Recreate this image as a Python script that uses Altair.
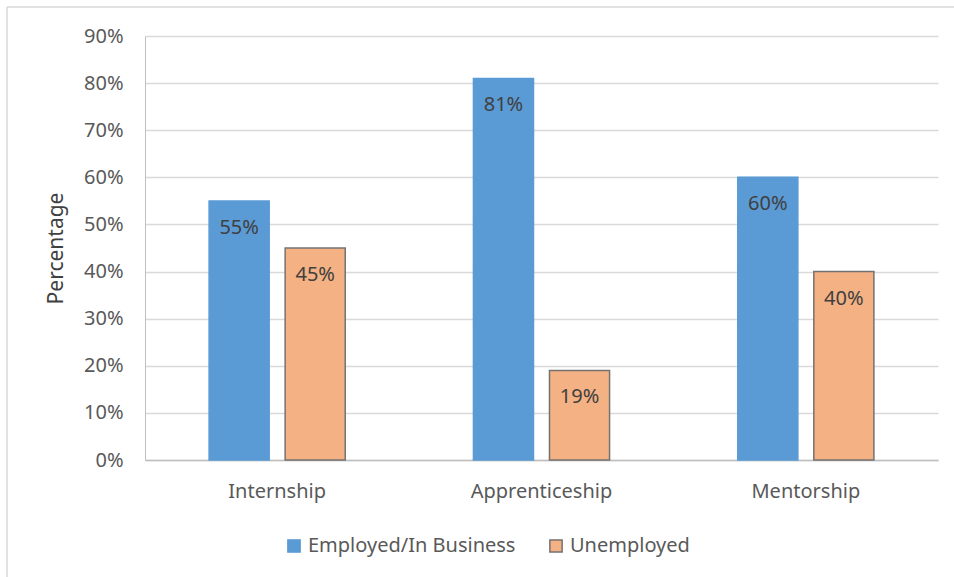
import altair as alt
import pandas as pd

categories = ["Internship", "Apprenticeship", "Mentorship"]
employed = [55, 81, 60]
unemployed = [45, 19, 40]
series = ["Employed/In Business", "Unemployed"]

rows = []
for c, e, u in zip(categories, employed, unemployed):
    rows.append({"cat": c, "series": series[0], "val": e / 100, "lbl": f"{e}%"})
    rows.append({"cat": c, "series": series[1], "val": u / 100, "lbl": f"{u}%"})
df = pd.DataFrame(rows)

FONT = "Noto Sans"
W, H = 793, 424

x = alt.X("cat:N", sort=categories, title=None,
          scale=alt.Scale(paddingInner=0.485, paddingOuter=0.2425),
          axis=alt.Axis(labelFont=FONT, labelFontSize=20, labelColor="#595959",
                        labelPadding=21, ticks=False, domainColor="#BFBFBF",
                        domainWidth=1.5, labelAngle=0))
xo = alt.XOffset("series:N", sort=series,
                 scale=alt.Scale(paddingInner=0.21, paddingOuter=0))
y = alt.Y("val:Q", title="Percentage",
          scale=alt.Scale(domain=[0, 0.9], nice=False),
          axis=alt.Axis(format=".0%", values=[i / 10 for i in range(10)],
                        labelFont=FONT, labelFontSize=20, labelColor="#595959",
                        labelPadding=22, ticks=False, domainColor="#BFBFBF",
                        gridColor="#D9D9D9", gridWidth=1.5,
                        titleFont=FONT, titleFontSize=21, titleFontWeight="normal",
                        titleColor="#404040", titlePadding=17))

legend_kw = dict(orient="none", direction="horizontal",
                 legendX=139, legendY=500, labelLimit=0,
                 labelFont=FONT, labelFontSize=20, labelColor="#595959",
                 symbolType="square", symbolSize=150,
                 symbolStrokeWidth=1.5, columnPadding=30,
                 labelOffset=4, title=None)

color = alt.Color("series:N", sort=series, title=None,
                  scale=alt.Scale(domain=series, range=["#5B9BD5", "#F4B183"]),
                  legend=alt.Legend(**legend_kw))
stroke = alt.Stroke("series:N", sort=series, title=None,
                    scale=alt.Scale(domain=series, range=["#5B9BD5", "#767171"]),
                    legend=alt.Legend(**legend_kw))

bars = alt.Chart(df).mark_bar(strokeWidth=1.5).encode(
    x=x, xOffset=xo, y=y, color=color, stroke=stroke)

text = alt.Chart(df).mark_text(font=FONT, fontSize=20, color="#404040",
                               dy=27, baseline="middle").encode(
    x=alt.X("cat:N", sort=categories), xOffset=alt.XOffset("series:N", sort=series),
    y="val:Q", text="lbl:N")

frame_data = pd.DataFrame({"k": [0]})
frame_top = alt.Chart(frame_data).mark_rule(stroke="#D9D9D9", strokeWidth=1.5).encode(
    x=alt.value(-138), x2=alt.value(W + 40), y=alt.value(-29))
frame_left = alt.Chart(frame_data).mark_rule(stroke="#D9D9D9", strokeWidth=1.5).encode(
    x=alt.value(-138), y=alt.value(-29), y2=alt.value(H + 130))

chart = alt.layer(frame_top, frame_left, bars, text).properties(
    width=W, height=H,
    autosize=alt.AutoSizeParams(type="none"),
    padding={"left": 145, "top": 36, "right": 16, "bottom": 117},
).configure(background="white").configure_view(stroke=None)

chart.save("out.html", embed_options={"renderer": "svg", "actions": False})
